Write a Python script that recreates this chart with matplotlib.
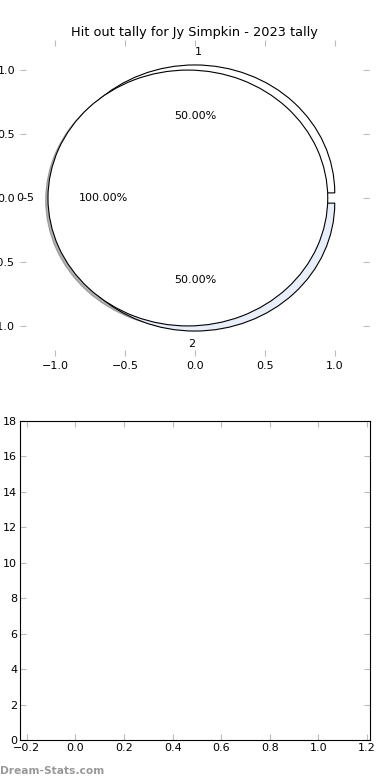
import matplotlib
matplotlib.use("Agg")
import matplotlib.pyplot as plt

# ---- data ----
round_labels = ["1", "2"]
round_values = [1, 1]
round_colors = ["white", "#e8eefa"]

bucket_labels = ["0-5"]
bucket_values = [1]

TITLE = "Hit out tally for Jy Simpkin - 2023 tally"

plt.rcParams["font.family"] = "DejaVu Sans"
plt.rcParams["font.size"] = 8

fig = plt.figure(figsize=(3.9, 7.8), dpi=100)

# ---- pie axes ----
ax_pie = fig.add_axes([0.0513, 0.5436, 0.8949, 0.4051])
wedges, texts, autotexts = ax_pie.pie(
    round_values, labels=round_labels, colors=round_colors,
    autopct="%.2f%%", startangle=0, explode=[0.04, 0.04],
    wedgeprops={"edgecolor": "black", "linewidth": 0.8},
    textprops={"fontsize": 8})
# round labels: "1" sits just right of centre, "2" just left
texts[0].set_ha("left")
texts[1].set_ha("right")

ax_pie.pie(bucket_values, labels=bucket_labels, colors=["white"],
           autopct="%.2f%%", startangle=0, explode=[0.05],
           shadow={"ox": -0.012, "oy": -0.012, "shade": 0.6},
           wedgeprops={"edgecolor": "black", "linewidth": 0.8},
           textprops={"fontsize": 8})
ax_pie.set_aspect("auto")
ax_pie.set_xlim(-1.25, 1.245)
ax_pie.set_ylim(-1.235, 1.235)
ax_pie.set_xticks([-1.0, -0.5, 0.0, 0.5, 1.0])
ax_pie.set_yticks([-1.0, -0.5, 0.0, 0.5, 1.0])
ax_pie.set_xticklabels(["\u22121.0", "\u22120.5", "0.0", "0.5", "1.0"])
ax_pie.set_yticklabels(["\u22121.0", "\u22120.5", "0.0", "0.5", "1.0"])
for s in ax_pie.spines.values():
    s.set_visible(False)
ax_pie.tick_params(direction="in", length=4, color="#bbbbbb", top=True,
                   right=True, labelsize=8)
ax_pie.set_title(TITLE, fontsize=9.3, pad=3)

# ---- empty tally axes ----
ax_bar = fig.add_axes([0.0513, 0.0513, 0.8974, 0.409])
ax_bar.set_xlim(-0.228, 1.212)
ax_bar.set_ylim(0, 18)
ax_bar.set_xticks([-0.2, 0.0, 0.2, 0.4, 0.6, 0.8, 1.0, 1.2])
ax_bar.set_yticks(range(0, 19, 2))
ax_bar.tick_params(direction="in", length=4, color="#bbbbbb", top=True,
                   right=True, labelsize=8, pad=2)

fig.text(0.0, 0.005, "Dream-Stats.com", color="#999999", fontsize=7.7,
         fontweight="bold", ha="left", va="bottom")

fig.savefig("out.png", dpi=100)
